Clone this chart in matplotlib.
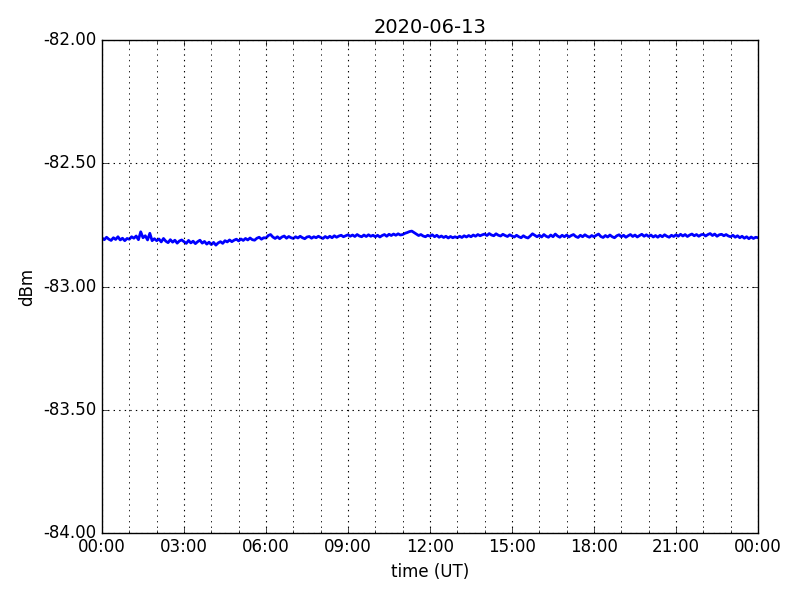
import matplotlib
matplotlib.use("Agg")
import matplotlib.pyplot as plt
import matplotlib.dates as mdates
import matplotlib.ticker as mticker
from datetime import datetime, timedelta

title = "2020-06-13"
start = datetime(2020, 6, 13, 0, 0)
step_minutes = 5

# Signal level (dBm) every 5 minutes, one row per hour
h00 = [-82.803, -82.810, -82.800, -82.808, -82.813, -82.802, -82.809, -82.798, -82.811, -82.804, -82.814, -82.805]
h01 = [-82.808, -82.798, -82.804, -82.795, -82.810, -82.778, -82.802, -82.794, -82.811, -82.784, -82.814, -82.806]
h02 = [-82.814, -82.807, -82.819, -82.805, -82.816, -82.822, -82.810, -82.820, -82.812, -82.824, -82.815, -82.811]
h03 = [-82.818, -82.825, -82.813, -82.823, -82.816, -82.826, -82.818, -82.812, -82.824, -82.817, -82.828, -82.820]
h04 = [-82.830, -82.821, -82.832, -82.823, -82.818, -82.825, -82.814, -82.819, -82.811, -82.818, -82.812, -82.808]
h05 = [-82.815, -82.807, -82.813, -82.805, -82.811, -82.803, -82.810, -82.812, -82.804, -82.800, -82.808, -82.802]
h06 = [-82.803, -82.793, -82.789, -82.799, -82.805, -82.798, -82.806, -82.799, -82.795, -82.804, -82.797, -82.802]
h07 = [-82.805, -82.798, -82.803, -82.796, -82.802, -82.806, -82.799, -82.797, -82.804, -82.798, -82.802, -82.796]
h08 = [-82.801, -82.805, -82.797, -82.803, -82.796, -82.802, -82.794, -82.800, -82.795, -82.792, -82.798, -82.794]
h09 = [-82.790, -82.796, -82.791, -82.797, -82.789, -82.795, -82.798, -82.791, -82.797, -82.790, -82.796, -82.792]
h10 = [-82.798, -82.792, -82.799, -82.793, -82.789, -82.796, -82.788, -82.793, -82.787, -82.792, -82.786, -82.791]
h11 = [-82.789, -82.784, -82.781, -82.777, -82.775, -82.781, -82.787, -82.793, -82.789, -82.795, -82.798, -82.792]
h12 = [-82.796, -82.790, -82.798, -82.792, -82.800, -82.795, -82.801, -82.796, -82.803, -82.797, -82.802, -82.798]
h13 = [-82.802, -82.796, -82.801, -82.794, -82.799, -82.793, -82.798, -82.791, -82.796, -82.789, -82.794, -82.790]
h14 = [-82.787, -82.793, -82.785, -82.791, -82.794, -82.786, -82.792, -82.795, -82.788, -82.793, -82.797, -82.790]
h15 = [-82.795, -82.799, -82.792, -82.798, -82.802, -82.794, -82.800, -82.803, -82.795, -82.786, -82.792, -82.798]
h16 = [-82.792, -82.799, -82.789, -82.796, -82.800, -82.791, -82.798, -82.787, -82.795, -82.800, -82.792, -82.798]
h17 = [-82.791, -82.799, -82.793, -82.789, -82.797, -82.801, -82.792, -82.798, -82.790, -82.796, -82.800, -82.793]
h18 = [-82.798, -82.792, -82.787, -82.797, -82.801, -82.793, -82.799, -82.791, -82.798, -82.802, -82.794, -82.790]
h19 = [-82.798, -82.792, -82.800, -82.794, -82.789, -82.797, -82.791, -82.799, -82.793, -82.788, -82.796, -82.790]
h20 = [-82.797, -82.791, -82.799, -82.793, -82.800, -82.792, -82.798, -82.790, -82.796, -82.800, -82.792, -82.797]
h21 = [-82.790, -82.796, -82.788, -82.795, -82.789, -82.797, -82.791, -82.787, -82.794, -82.789, -82.796, -82.790]
h22 = [-82.788, -82.795, -82.789, -82.785, -82.793, -82.787, -82.796, -82.790, -82.788, -82.794, -82.789, -82.795]
h23 = [-82.798, -82.792, -82.800, -82.794, -82.802, -82.796, -82.804, -82.798, -82.806, -82.799, -82.805, -82.800]
h24 = [-82.802]

levels = (h00 + h01 + h02 + h03 + h04 + h05 + h06 + h07 + h08 + h09 + h10 + h11 +
          h12 + h13 + h14 + h15 + h16 + h17 + h18 + h19 + h20 + h21 + h22 + h23 + h24)
times = [start + timedelta(minutes=step_minutes * i) for i in range(len(levels))]

y_min, y_max, y_step = -84.0, -82.0, 0.5

plt.style.use("classic")
fig = plt.figure(figsize=(8, 6), dpi=100, facecolor="white")
ax = fig.add_axes([0.1275, 0.112, 0.82, 0.821])
ax.plot(times, levels, color="b", lw=2.0)

ax.set_xlim(start, start + timedelta(days=1))
ax.set_ylim(y_min, y_max)
ax.yaxis.set_major_locator(mticker.MultipleLocator(y_step))
ax.yaxis.set_major_formatter(mticker.FormatStrFormatter("%.2f"))
ax.xaxis.set_major_locator(mdates.HourLocator(byhour=range(0, 24, 3)))
ax.xaxis.set_minor_locator(mdates.HourLocator())
ax.xaxis.set_major_formatter(mdates.DateFormatter("%H:%M"))

ax.grid(True, which="major", color="k", linestyle=":", lw=0.8)
ax.grid(True, which="minor", axis="x", color="k", linestyle=":", lw=0.6)

ax.set_title(title, fontsize=14)
ax.set_xlabel("time (UT)", fontsize=12)
ax.set_ylabel("dBm", fontsize=12)
ax.tick_params(labelsize=12)

fig.savefig("out.png", dpi=100, facecolor="white")
